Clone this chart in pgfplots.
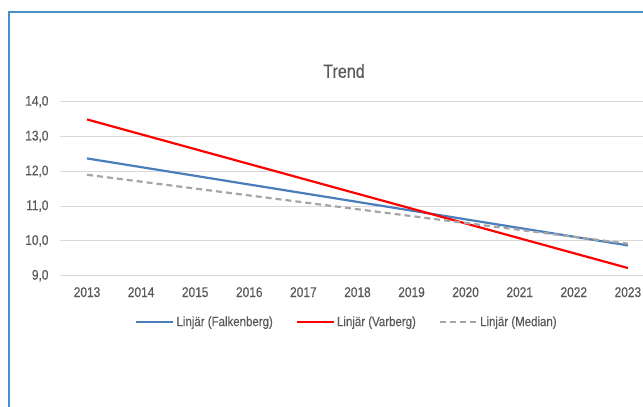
\documentclass[border=0pt]{standalone}
\usepackage{fontspec}
\setmainfont{Liberation Sans}[FakeStretch=0.85, FakeBold=0.4]
\usepackage{pgfplots}
\pgfplotsset{compat=1.18}
\definecolor{txt}{HTML}{595959}
\definecolor{gridc}{HTML}{D9D9D9}
\definecolor{cblue}{HTML}{4A7EBB}
\definecolor{cred}{HTML}{FF0000}
\definecolor{cgrey}{HTML}{A5A5A5}
\definecolor{framec}{HTML}{4A8ECB}
\begin{document}
\begin{tikzpicture}[x=1pt,y=1pt]
\useasboundingbox (0,0) rectangle (643,407);
\draw[framec, line width=1.3pt] (9,-20) -- (9,395) -- (700,395);
\node[txt, font=\fontsize{19}{22}\selectfont] at (344,336) {Trend};
\begin{axis}[
  at={(60pt,131.3pt)}, anchor=south west,
  scale only axis, width=595pt, height=174pt,
  xmin=2012.5, xmax=2023.5, ymin=9, ymax=14,
  xtick={2013,...,2023}, ytick={9,10,...,14},
  xticklabel style={/pgf/number format/1000 sep={}},
  x tick label style={yshift=-8pt},
  y tick label style={xshift=-8pt},
  yticklabel style={/pgf/number format/.cd, fixed, fixed zerofill, precision=1, use comma},
  /pgf/number format/assume math mode=true,
  tick label style={font=\fontsize{14}{16}\selectfont, text=txt},
  major tick length=0pt,
  axis line style={draw=none},
  xmajorgrids=false, ymajorgrids, grid style={draw=gridc, line width=0.8pt},
  legend columns=3,
  legend style={at={(0.4815,-0.266)}, anchor=center, draw=none, fill=none,
    font=\fontsize{13.5}{15}\selectfont, text=txt,
    /tikz/every odd column/.append style={column sep=1pt},
    /tikz/every even column/.append style={column sep=22pt},
    nodes={inner sep=1pt}},
  legend image code/.code={\draw[#1] (0pt,0pt) -- (37pt,0pt);},
]
\addplot[cblue, line width=2.2pt] coordinates {(2013,12.37) (2023,9.87)};
\addlegendentry{Linjär (Falkenberg)}
\addplot[cred, line width=2.2pt] coordinates {(2013,13.49) (2023,9.22)};
\addlegendentry{Linjär (Varberg)}
\addplot[cgrey, line width=2.2pt, dash pattern=on 6pt off 4pt] coordinates {(2013,11.90) (2023,9.92)};
\addlegendentry{Linjär (Median)}
\end{axis}
\end{tikzpicture}
\end{document}
